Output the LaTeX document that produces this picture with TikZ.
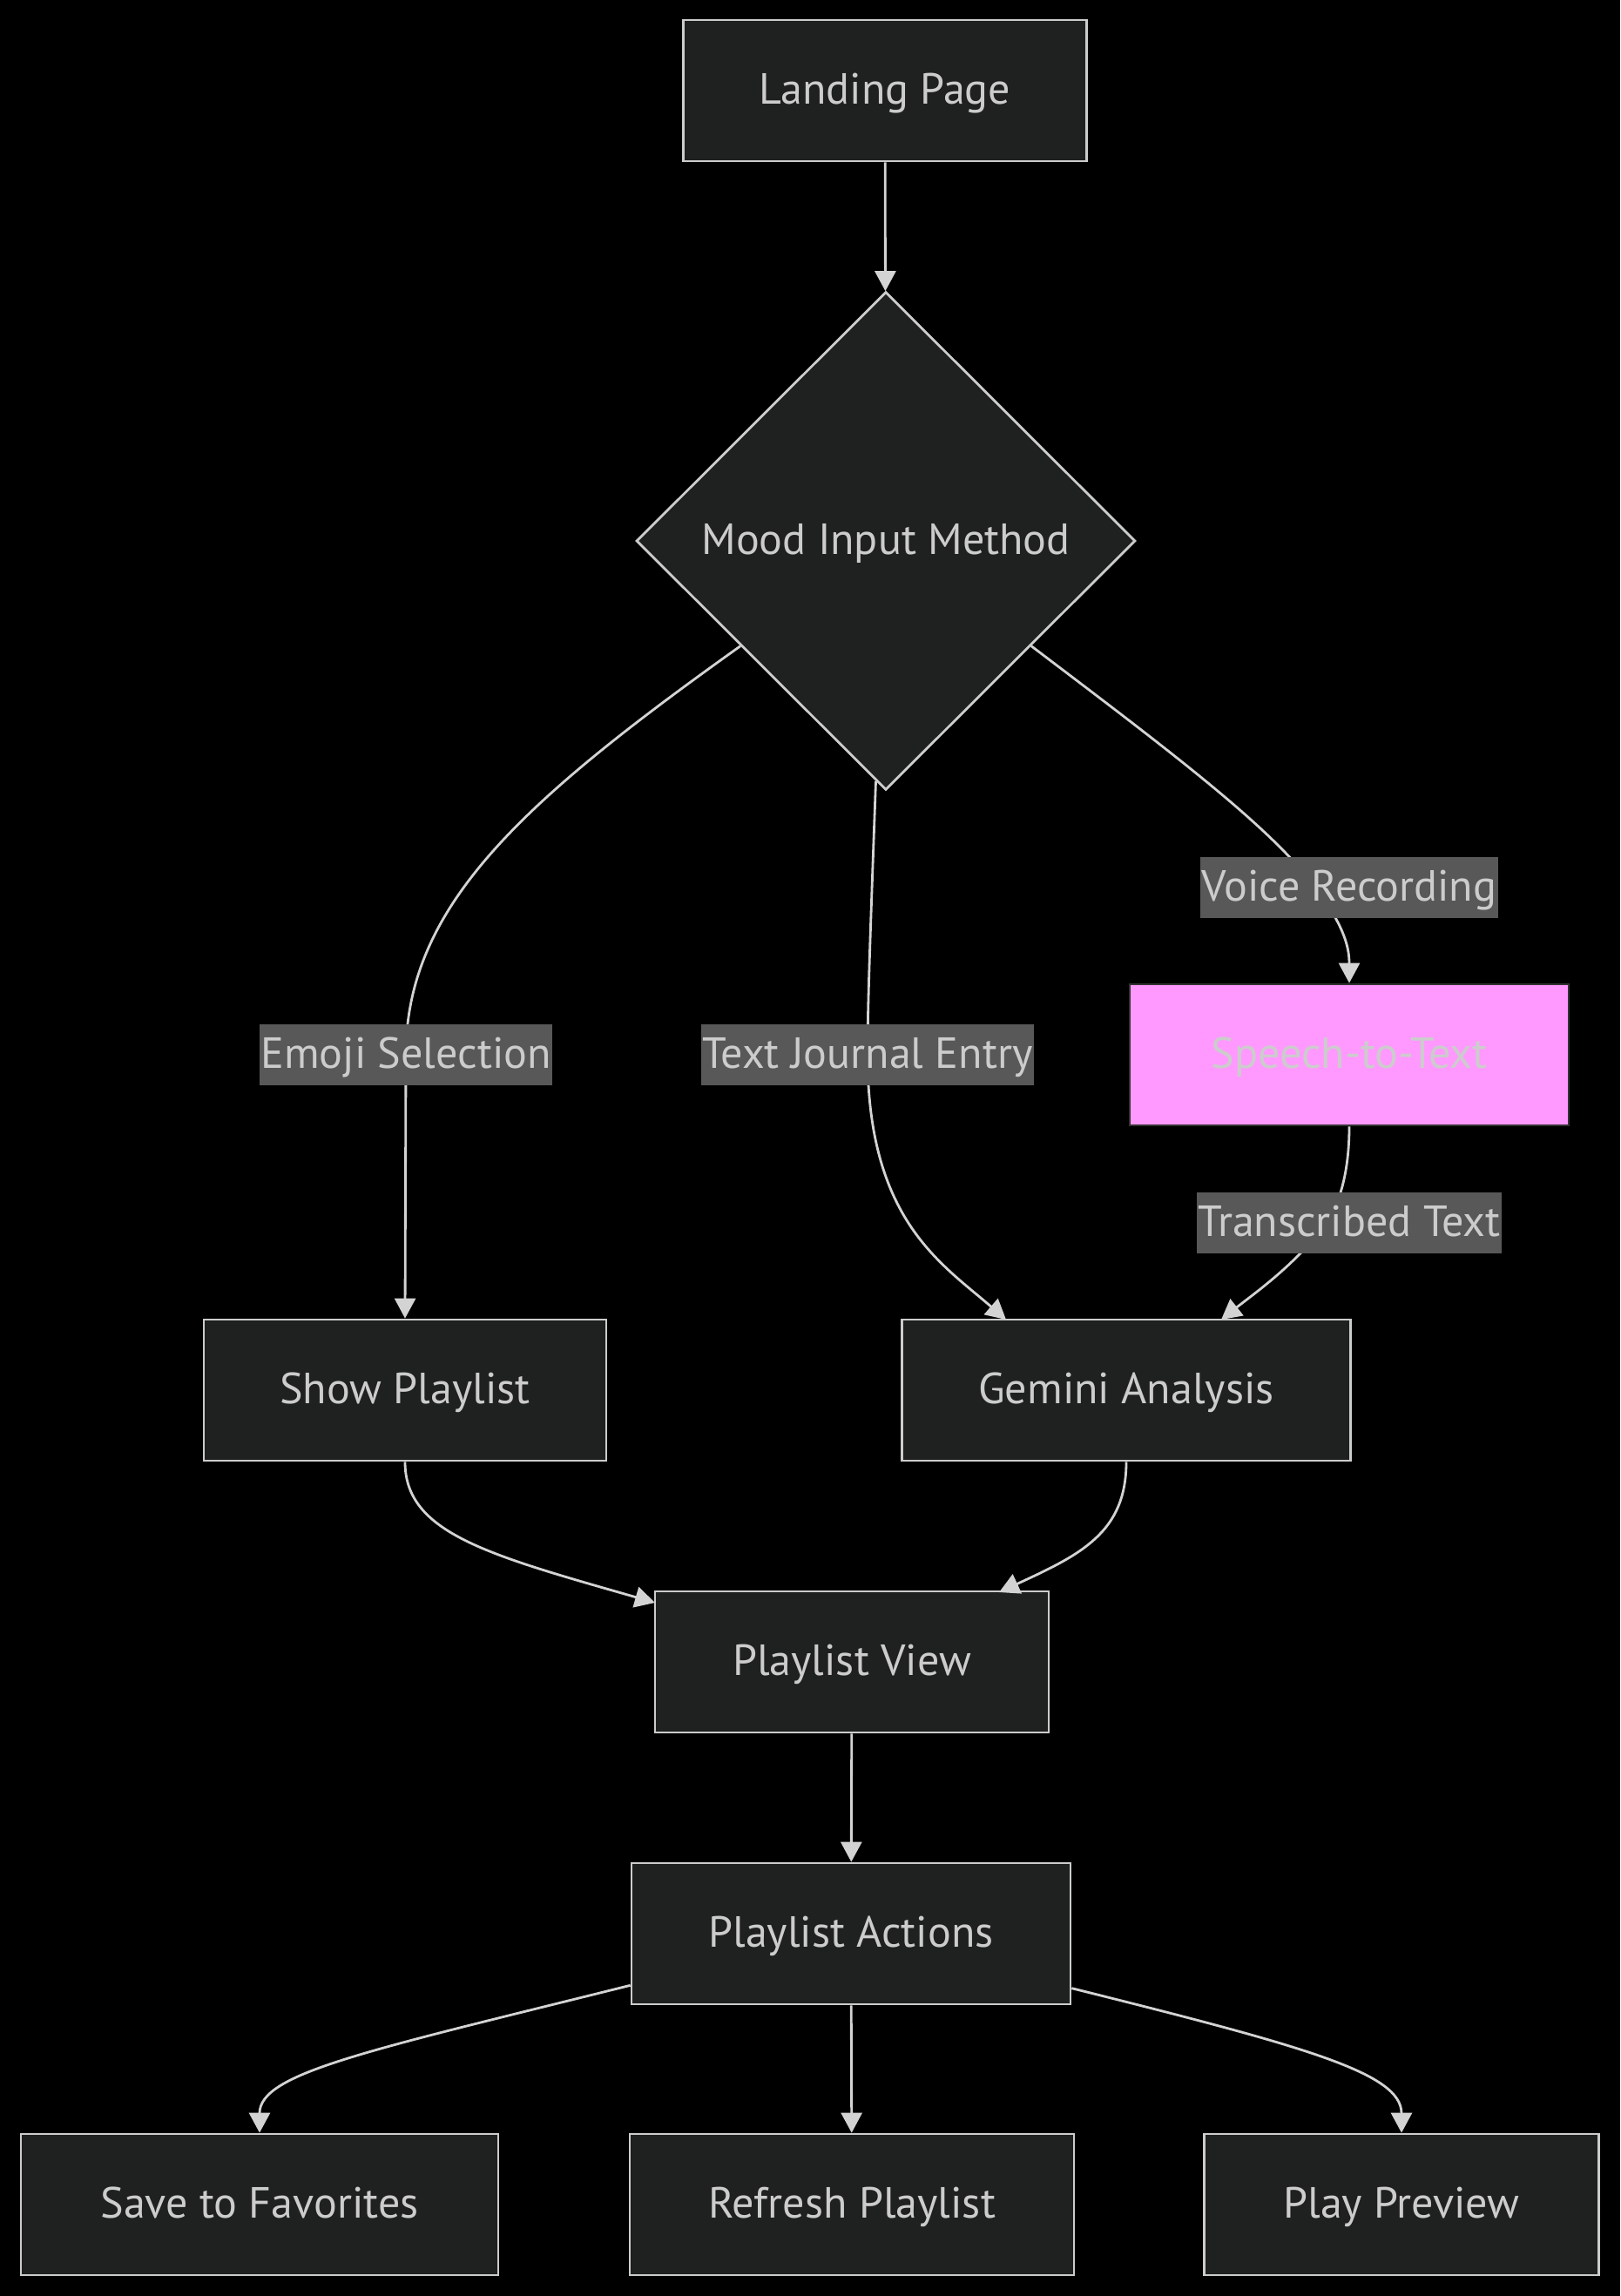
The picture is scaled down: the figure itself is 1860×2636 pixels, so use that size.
\documentclass[tikz,border=0pt]{standalone}
\usepackage{fontspec}
\setmainfont{PT Sans}
\usetikzlibrary{arrows.meta, shapes.geometric, calc}

\definecolor{nodefill}{HTML}{1F2020}
\definecolor{nodeline}{HTML}{CCCCCC}
\definecolor{linkline}{HTML}{D3D3D3}
\definecolor{labelfill}{HTML}{585858}
\definecolor{pinkfill}{HTML}{FF99FF}
\definecolor{pinkline}{HTML}{333333}

\begin{document}
\begin{tikzpicture}[x=0.02cm, y=-0.02cm, % Pixel-Koordinaten, y nach unten
    box/.style={rectangle, draw=nodeline, fill=nodefill, line width=1.6pt,
        minimum height=3.24cm, text=nodeline, text height=0.8cm, text depth=0.18cm,
        font=\fontsize{28.5}{34}\selectfont},
    decision/.style={diamond, draw=nodeline, fill=nodefill, line width=1.6pt,
        minimum width=11.46cm, minimum height=11.44cm, inner sep=0pt,
        text=nodeline, text height=0.8cm, text depth=0.18cm,
        font=\fontsize{28.5}{34}\selectfont},
    pinkbox/.style={box, fill=pinkfill, draw=pinkline},
    lbl/.style={rectangle, fill=labelfill, text=nodeline, inner xsep=1pt, inner ysep=0pt,
        minimum height=1.4cm, text height=0.8cm, text depth=0.18cm,
        font=\fontsize{28.5}{34}\selectfont},
    link/.style={draw=linkline, line width=1.6pt, -{Triangle[length=0.46cm, width=0.48cm]}}]

    % Hintergrund und Rahmen
    \fill[black] (0,0) rectangle (1860,2636);
    \useasboundingbox (0,0) rectangle (1860,2636);

    % Knoten
    \node[box, minimum width=9.26cm] (landing) at (1016,104) {Landing Page};
    \node[decision] (mood) at (1017,621) {Mood Input Method};
    \node[pinkbox, minimum width=10.08cm] (speech) at (1549,1211) {Speech-to-Text};
    \node[box, minimum width=9.24cm] (show) at (465,1596) {Show Playlist};
    \node[box, minimum width=10.3cm] (gemini) at (1293,1596) {Gemini Analysis};
    \node[box, minimum width=9.04cm] (pview) at (978,1908) {Playlist View};
    \node[box, minimum width=10.08cm] (actions) at (977,2220) {Playlist Actions};
    \node[box, minimum width=10.96cm] (save) at (298,2531) {Save to Favorites};
    \node[box, minimum width=10.2cm] (refresh) at (978,2531) {Refresh Playlist};
    \node[box, minimum width=9.06cm] (play) at (1609,2531) {Play Preview};

    % Gerade Kanten
    \foreach \a/\b in {landing/mood, pview/actions, actions/refresh} {
        \draw[link] (\a) -- (\b);
    }

    % Kanten mit Beschriftung
    \draw[link] ($(mood.west)!.42!(mood.south)$) .. controls (600,920) and (466,1040) ..
        (466,1211) node[lbl] (emojiLbl) {Emoji Selection} -- (show.north);
    \draw[link] ($(mood.south)!.04!(mood.west)$) .. controls (1000,1050) and (996,1150) ..
        (996,1211) node[lbl] (textLbl) {Text Journal Entry}
        .. controls (996,1400) and (1080,1450) .. (1155,1515);
    \draw[link] ($(mood.east)!.42!(mood.south)$) .. controls (1340,860) and (1460,950) ..
        (1510,1019) node[lbl, xshift=0.78cm] (voiceLbl) {Voice Recording}
        .. controls (1545,1065) and (1549,1090) .. (speech.north);
    \draw[link] (speech.south) .. controls (1549,1340) and (1540,1380) ..
        (1522,1404) node[lbl, xshift=0.54cm] (transLbl) {Transcribed Text}
        .. controls (1490,1450) and (1440,1485) .. (1402,1515);

    % Zusammenfuehrung
    \draw[link] (show.south) .. controls (465,1760) and (560,1785) .. (752,1840);
    \draw[link] (gemini.south) .. controls (1293,1760) and (1240,1785) .. (1147,1828);

    % Aktionen
    \draw[link] ($(actions.south west)!.14!(actions.north west)$) .. controls (420,2355) and (298,2380) .. (save.north);
    \draw[link] ($(actions.south east)!.12!(actions.north east)$) .. controls (1500,2350) and (1609,2380) .. (play.north);
\end{tikzpicture}
\end{document}
